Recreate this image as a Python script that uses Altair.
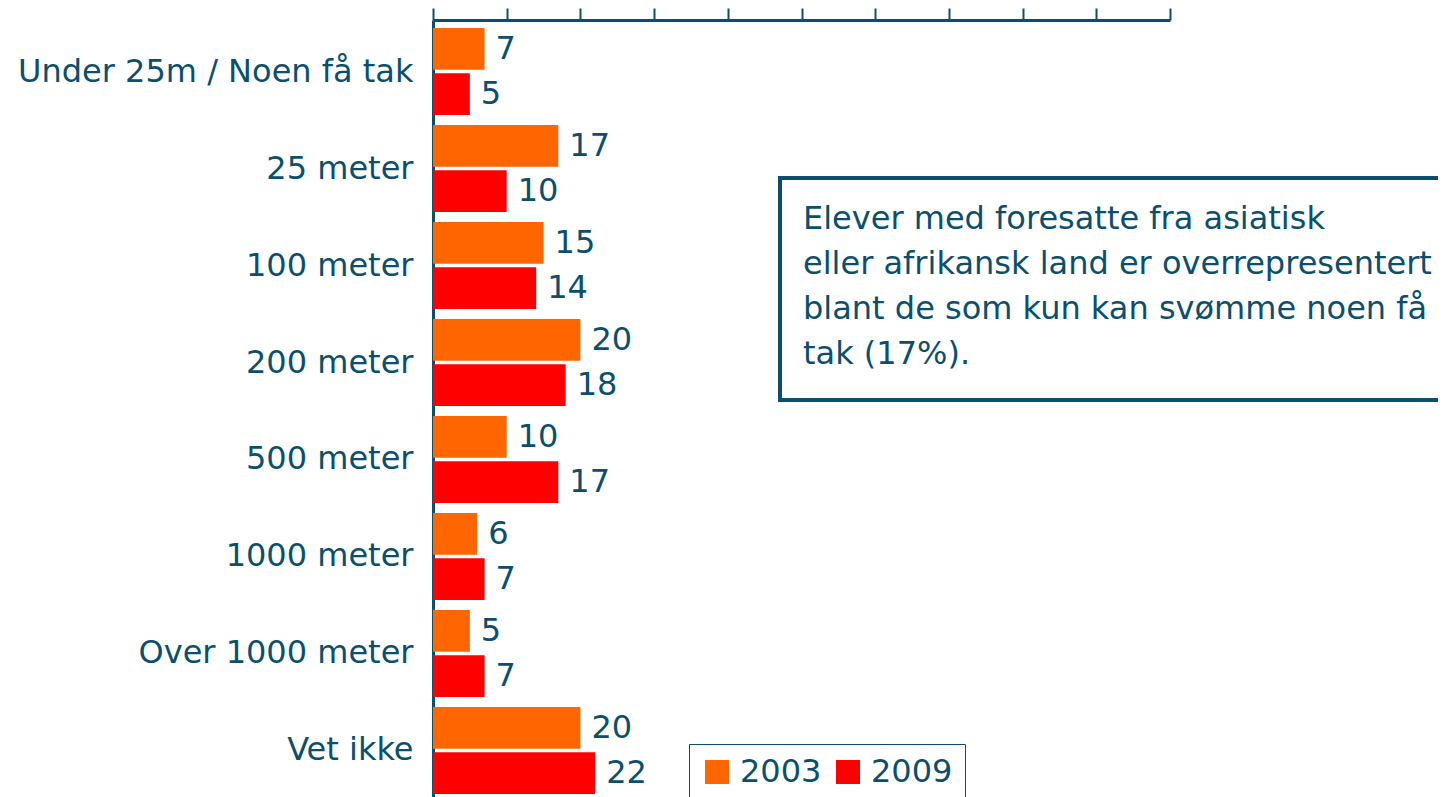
import altair as alt
import pandas as pd

categories = ["Under 25m / Noen få tak", "25 meter", "100 meter", "200 meter",
              "500 meter", "1000 meter", "Over 1000 meter", "Vet ikke"]
years = ["2003", "2009"]
values_2003 = [7, 17, 15, 20, 10, 6, 5, 20]
values_2009 = [5, 10, 14, 18, 17, 7, 7, 22]
note_lines = ["Elever med foresatte fra asiatisk",
              "eller afrikansk land er overrepresentert",
              "blant de som kun kan svømme noen få",
              "tak (17%)."]

rows = []
for c, a, b in zip(categories, values_2003, values_2009):
    rows.append({"kategori": c, "år": "2003", "verdi": a})
    rows.append({"kategori": c, "år": "2009", "verdi": b})
df = pd.DataFrame(rows)

TXT = "#0B4F6C"
FONT = "DejaVu Sans"
FS = 32

y_enc = alt.Y("kategori:N", sort=categories,
              scale=alt.Scale(paddingInner=0.103, paddingOuter=0.0825),
              axis=alt.Axis(title=None, ticks=False, labelFontSize=FS, labelColor=TXT,
                            labelFont=FONT, labelPadding=20, domainColor=TXT,
                            domainWidth=3, labelLimit=600))
x_enc = alt.X("verdi:Q", scale=alt.Scale(domain=[0, 100]),
              axis=alt.Axis(title=None, orient="top", labels=False, grid=False,
                            values=list(range(0, 101, 10)), tickSize=12, tickWidth=2,
                            tickColor=TXT, domainColor=TXT, domainWidth=3))
yoff = alt.YOffset("år:N", scale=alt.Scale(paddingInner=0.08))

bars = alt.Chart(df).mark_bar().encode(
    y=y_enc, x=x_enc, yOffset=yoff,
    color=alt.Color("år:N", scale=alt.Scale(domain=years, range=["#FF6600", "#FF0000"]),
                    legend=alt.Legend(title=None, orient="none", legendX=256, legendY=724,
                                      direction="horizontal", symbolType="square",
                                      symbolSize=576, symbolStrokeWidth=0,
                                      labelFontSize=FS, labelColor=TXT, labelFont=FONT,
                                      strokeColor=TXT, padding=12, columnPadding=10,
                                      labelOffset=7, fillColor="white"))
)

labels = alt.Chart(df).mark_text(align="left", baseline="middle", dx=11, fontSize=FS,
                                 color=TXT, font=FONT).encode(
    y=alt.Y("kategori:N", sort=categories), x="verdi:Q", yOffset="år:N",
    text="verdi:Q")

box = alt.Chart(pd.DataFrame({"a": [0]})).mark_rect(
    fill="white", stroke=TXT, strokeWidth=4, clip=False).encode(
    x=alt.value(347), x2=alt.value(1100), y=alt.value(158), y2=alt.value(380))

note = alt.Chart(pd.DataFrame({"t": [note_lines]})).mark_text(
    align="left", baseline="top", fontSize=FS, color=TXT, font=FONT,
    lineHeight=45).encode(x=alt.value(370), y=alt.value(184), text="t")

chart = alt.layer(bars, labels, box, note).properties(
    width=737, height=782,
    background="white",
    autosize=alt.AutoSizeParams(type="none"),
    padding={"left": 425, "top": 12, "right": 268, "bottom": 0},
).configure_view(stroke=None)

chart.save("out.html", embed_options={"renderer": "svg", "actions": False})
